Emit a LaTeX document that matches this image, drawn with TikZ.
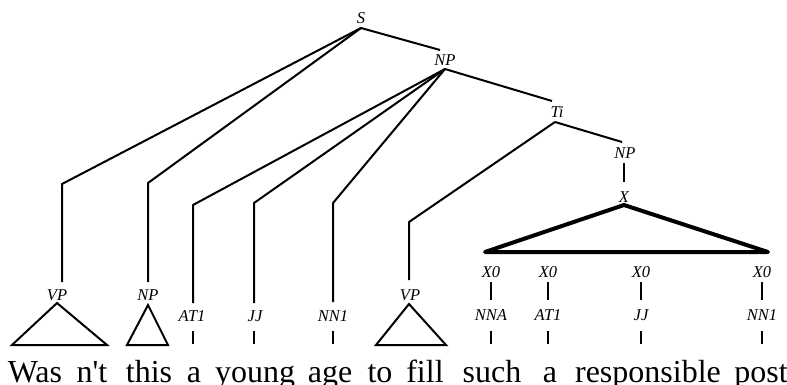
\documentclass[tikz,border=0pt]{standalone}
\usepackage{fontspec}
\setmainfont{Liberation Serif}
\begin{document}
\begin{tikzpicture}[x=1pt,y=-1pt,
  lab/.style={font=\fontsize{16.5}{16.5}\selectfont\itshape, inner sep=0pt, anchor=base},
  word/.style={font=\fontsize{32}{34}\selectfont, inner sep=0pt, anchor=base},
  edge/.style={line width=2pt, line join=miter},
  tri/.style={line width=2pt, line join=miter},
  bigtri/.style={line width=4pt, line join=round, line cap=round}]
\useasboundingbox (0,0) rectangle (787,385);

% labels
\node[lab] (S)   at (361,24)  {S};
\node[lab] (NP)  at (445,66)  {NP};
\node[lab] (Ti)  at (557,118) {Ti};
\node[lab] (NPb) at (625,158) {NP};
\node[lab] (X)   at (624,202) {X};
\node[lab] (VPa) at (57,300)  {VP};
\node[lab] (NPa) at (148,300) {NP};
\node[lab] (AT1a) at (192,321) {AT1};
\node[lab] (JJa)  at (255,321) {JJ};
\node[lab] (NN1a) at (333,321) {NN1};
\node[lab] (VPb) at (410,300) {VP};
\node[lab] (X0a) at (491,277) {X0};
\node[lab] (X0b) at (548,277) {X0};
\node[lab] (X0c) at (641,277) {X0};
\node[lab] (X0d) at (762,277) {X0};
\node[lab] (NNA) at (491,320) {NNA};
\node[lab] (AT1b) at (548,320) {AT1};
\node[lab] (JJb) at (641,320) {JJ};
\node[lab] (NN1b) at (762,320) {NN1};

% words
\foreach \w/\x [count=\i] in {Was/35, n\textquotesingle t/92, this/149, a/194, young/255, age/330, to/380, fill/425, such/492, a/550, responsible/648, post/761}
  \node[word] (w\i) at (\x,382) {\w};

% connector points
\coordinate (S-d) at (361,28);
\coordinate (NP-u) at (440,50);
\coordinate (NP-d) at (445,69);
\coordinate (Ti-u) at (552,101);
\coordinate (Ti-d) at (555,122);
\coordinate (NPb-u) at (622,142);
\coordinate (NPb-d) at (624,163);
\coordinate (X-u) at (624,182);
\coordinate (X-d) at (624,205);
\coordinate (VPa-c) at (62,184);
\coordinate (VPa-u) at (62,282);
\coordinate (NPa-c) at (148,183);
\coordinate (NPa-u) at (148,282);
\coordinate (AT1a-c) at (193,205);
\coordinate (AT1a-u) at (193,303);
\coordinate (JJa-c) at (254,203);
\coordinate (JJa-u) at (254,303);
\coordinate (NN1a-c) at (333,203);
\coordinate (NN1a-u) at (333,302);
\coordinate (VPb-c) at (409,222);
\coordinate (VPb-u) at (409,280);

% tree edges
\draw[edge] (S-d) -- (NP-u);
\draw[edge] (S-d) -- (VPa-c) -- (VPa-u);
\draw[edge] (S-d) -- (NPa-c) -- (NPa-u);
\draw[edge] (NP-d) -- (AT1a-c) -- (AT1a-u);
\draw[edge] (NP-d) -- (JJa-c) -- (JJa-u);
\draw[edge] (NP-d) -- (NN1a-c) -- (NN1a-u);
\draw[edge] (NP-d) -- (Ti-u);
\draw[edge] (Ti-d) -- (NPb-u);
\draw[edge] (Ti-d) -- (VPb-c) -- (VPb-u);
\draw[edge] (NPb-d) -- (X-u);

% big triangle under X
\draw[bigtri] (X-d) -- (485,252) -- (768,252) -- cycle;

% small triangles
\draw[tri] (57,303) -- (12,345) -- (107,345) -- cycle;
\draw[tri] (148,305) -- (127,345) -- (168,345) -- cycle;
\draw[tri] (409,304) -- (376,345) -- (446,345) -- cycle;

% X0 stubs
\foreach \n/\x in {X0a/491, X0b/548, X0c/641, X0d/762}{
  \coordinate (\n-s) at (\x,282);
  \coordinate (\n-e) at (\x,300);
  \draw[edge] (\n-s) -- (\n-e);
}
% word stubs
\foreach \n/\x in {AT1a/193, JJa/254, NN1a/333, NNA/491, AT1b/548, JJb/641, NN1b/762}{
  \coordinate (\n-s) at (\x,331);
  \coordinate (\n-e) at (\x,344);
  \draw[edge] (\n-s) -- (\n-e);
}
\end{tikzpicture}
\end{document}
